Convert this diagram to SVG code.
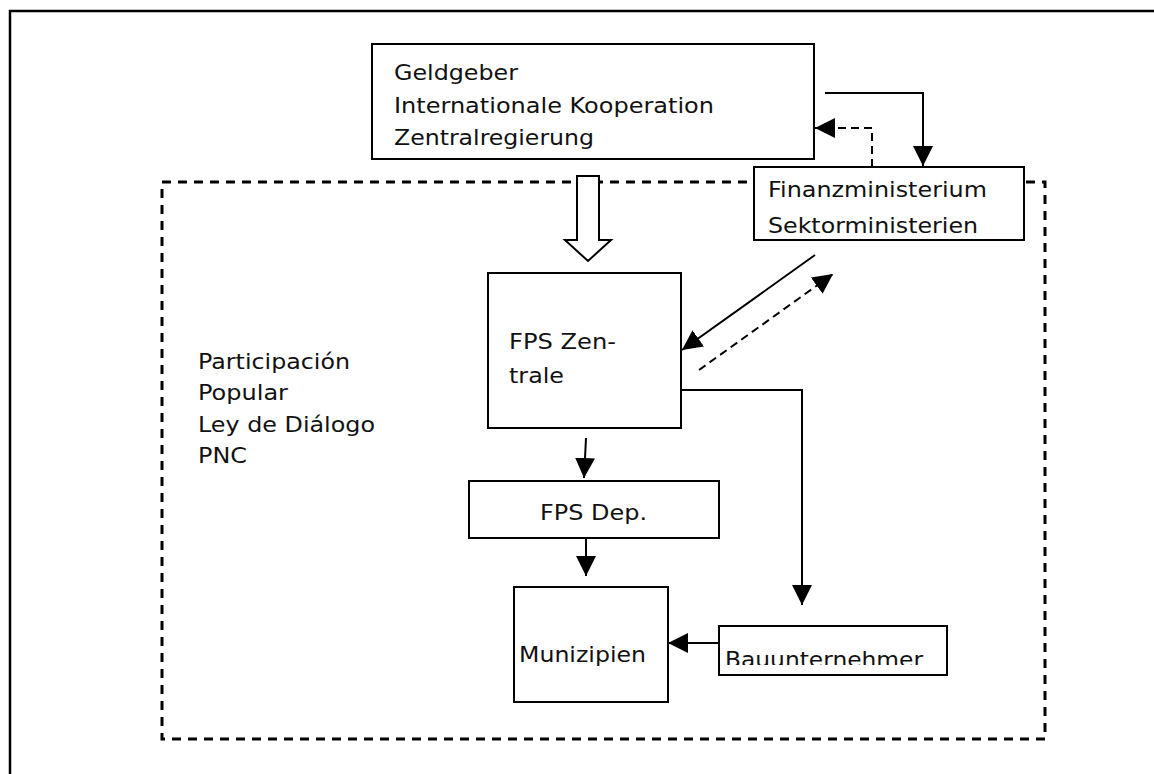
<svg xmlns="http://www.w3.org/2000/svg" width="1154" height="774" viewBox="0 0 1154 774">
<style>
.box{fill:#fff;stroke:#000;stroke-width:2}
.t{font-family:"DejaVu Sans","Liberation Sans",sans-serif;font-size:22px;fill:#111}
.c{fill:none;stroke:#000;stroke-width:2}
.d{fill:none;stroke:#000;stroke-width:2;stroke-dasharray:8 5}
</style>
<defs>
<marker id="ah" viewBox="0 0 20 20" refX="20" refY="10" markerWidth="20" markerHeight="20" markerUnits="userSpaceOnUse" orient="auto">
<path d="M0,0 L20,10 L0,20 z" fill="#000"/>
</marker>
<clipPath id="bauclip"><rect x="719" y="626" width="228" height="39"/></clipPath>
</defs>
<rect width="1154" height="774" fill="#fff"/>
<path d="M10,780 L10,11 L1160,11" fill="none" stroke="#000" stroke-width="2.5"/>
<rect id="region" x="162" y="182" width="883" height="557" fill="none" stroke="#000" stroke-width="3" stroke-dasharray="9 7"/>
<g id="policy-labels">
<text class="t" x="198" y="369" textLength="152" lengthAdjust="spacingAndGlyphs">Participación</text>
<text class="t" x="198" y="400" textLength="90" lengthAdjust="spacingAndGlyphs">Popular</text>
<text class="t" x="198" y="432" textLength="177" lengthAdjust="spacingAndGlyphs">Ley de Diálogo</text>
<text class="t" x="198" y="463" textLength="49" lengthAdjust="spacingAndGlyphs">PNC</text>
</g>
<g id="connectors">
<path class="c" d="M825,93 L923,93 L923,166" marker-end="url(#ah)"/>
<path class="d" d="M872,167 L872,128 L815,128" marker-end="url(#ah)"/>
<path class="c" d="M815,255 L682,350" marker-end="url(#ah)"/>
<path class="d" d="M699,370 L833,274" marker-end="url(#ah)"/>
<path class="c" d="M681,390 L802,390 L802,605" marker-end="url(#ah)"/>
<path class="c" d="M586,438 L584,478" marker-end="url(#ah)"/>
<path class="c" d="M586,538 L586,576" marker-end="url(#ah)"/>
<path class="c" d="M719,643 L668,643" marker-end="url(#ah)"/>
<path d="M577,176 L599,176 L599,240 L611,240 L588,261 L565,240 L577,240 z" fill="#fff" stroke="#000" stroke-width="2"/>
</g>
<g id="geldgeber">
<rect class="box" x="372" y="44" width="442" height="115"/>
<text class="t" x="394" y="80" textLength="124" lengthAdjust="spacingAndGlyphs">Geldgeber</text>
<text class="t" x="394" y="113" textLength="320" lengthAdjust="spacingAndGlyphs">Internationale Kooperation</text>
<text class="t" x="394" y="145" textLength="200" lengthAdjust="spacingAndGlyphs">Zentralregierung</text>
</g>
<g id="finanzministerium">
<rect class="box" x="754" y="167" width="270" height="73"/>
<text class="t" x="768" y="197" textLength="219" lengthAdjust="spacingAndGlyphs">Finanzministerium</text>
<text class="t" x="768" y="233" textLength="210" lengthAdjust="spacingAndGlyphs">Sektorministerien</text>
</g>
<g id="fps-zentrale">
<rect class="box" x="488" y="273" width="193" height="155"/>
<text class="t" x="509" y="349" textLength="107" lengthAdjust="spacingAndGlyphs">FPS Zen-</text>
<text class="t" x="509" y="383" textLength="55" lengthAdjust="spacingAndGlyphs">trale</text>
</g>
<g id="fps-dep">
<rect class="box" x="469" y="481" width="250" height="57"/>
<text class="t" x="540" y="520" textLength="107" lengthAdjust="spacingAndGlyphs">FPS Dep.</text>
</g>
<g id="munizipien">
<rect class="box" x="514" y="587" width="154" height="115"/>
<text class="t" x="519" y="662" textLength="127" lengthAdjust="spacingAndGlyphs">Munizipien</text>
</g>
<g id="bauunternehmer">
<rect class="box" x="719" y="626" width="228" height="49"/>
<text class="t" x="725" y="667" textLength="198" lengthAdjust="spacingAndGlyphs" clip-path="url(#bauclip)">Bauunternehmer</text>
</g>
</svg>
